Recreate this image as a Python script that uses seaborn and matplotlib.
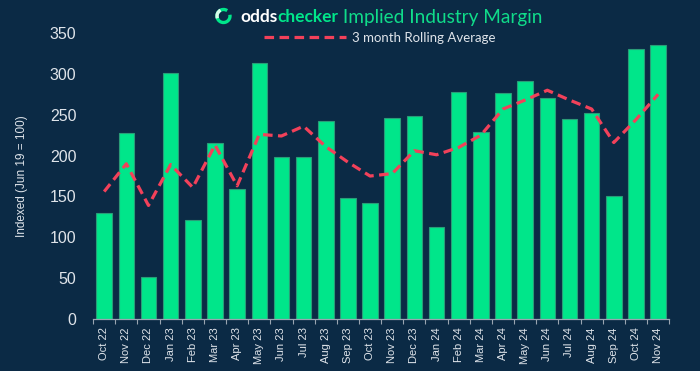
import numpy as np
import pandas as pd
import matplotlib
matplotlib.use('Agg')
import matplotlib.pyplot as plt
from matplotlib.patches import Arc
import seaborn as sns

months = ["Oct 22", "Nov 22", "Dec 22", "Jan 23", "Feb 23", "Mar 23", "Apr 23",
          "May 23", "Jun 23", "Jul 23", "Aug 23", "Sep 23", "Oct 23", "Nov 23",
          "Dec 23", "Jan 24", "Feb 24", "Mar 24", "Apr 24", "May 24", "Jun 24",
          "Jul 24", "Aug 24", "Sep 24", "Oct 24", "Nov 24"]
margin = [130, 228, 51, 301, 121, 215, 159, 313, 198, 198, 242, 148, 142, 246,
          248, 113, 278, 229, 276, 291, 270, 245, 252, 151, 331, 335]
rolling_avg = [156, 190, 139, 189, 161, 213, 163, 226, 224, 236, 211, 192, 175, 178,
               206, 201, 210, 225, 257, 268, 280, 268, 257, 216, 244, 275]

BG = '#0b2a45'
GREEN = '#00e68a'
RED = '#f2415a'
TXT = '#dfe4ea'

df = pd.DataFrame({"month": months, "margin": margin, "rolling": rolling_avg})

sns.set_theme(style="dark")
plt.rcParams['font.family'] = ['Liberation Sans', 'DejaVu Sans']

fig = plt.figure(figsize=(7, 3.71), dpi=100, facecolor=BG)
ax = fig.add_axes([0.133, 0.140, 0.823, 0.771])
ax.set_facecolor(BG)

sns.barplot(data=df, x="month", y="margin", color=GREEN, width=0.7,
            edgecolor='#2a9c78', linewidth=0.8, saturation=1, ax=ax)
sns.lineplot(data=df, x="month", y="rolling", sort=False, color=RED, linewidth=2.3,
             ax=ax, label="3 month Rolling Average", zorder=5)
ax.lines[-1].set_dashes((3, 1.7))

ax.set_xlim(-0.5, len(months) - 0.5)
ax.set_ylim(0, 350)
ax.set_yticks(range(0, 351, 50))
ax.set_xticks(np.arange(-0.5, len(months), 1), minor=True)
ax.tick_params(axis='x', which='major', length=0, pad=6, labelsize=8, colors=TXT,
               labelrotation=90)
ax.tick_params(axis='x', which='minor', length=3.5, width=0.8, color='#9aa5b1',
               direction='out', bottom=True)
ax.tick_params(axis='y', length=0, pad=12, labelsize=11.5, colors=TXT)
ax.grid(False)
for s in ['left', 'right', 'top']:
    ax.spines[s].set_visible(False)
ax.spines['bottom'].set_color('#9aa5b1')
ax.spines['bottom'].set_linewidth(0.9)

ax.set_xlabel("")
ax.set_ylabel("Indexed (Jun 19 = 100)", fontsize=8.5, color=TXT)
ax.yaxis.set_label_coords(-0.113, 0.5)

ax.get_legend().remove()
leg = fig.legend(handles=[ax.lines[-1]], labels=["3 month Rolling Average"],
                 loc='center', bbox_to_anchor=(380 / 700, 1 - 38 / 371),
                 frameon=False, handlelength=6.2, handletextpad=0.5,
                 prop={'family': 'Lato', 'size': 9.5})
for t in leg.get_texts():
    t.set_color(TXT)

# title: logo ring + "odds" + "checker" + rest
ring = Arc((223.5 / 700, 1 - 16 / 371), 13 / 700, 13 / 371, theta1=70, theta2=380,
           transform=fig.transFigure, color=GREEN, linewidth=2.4)
fig.add_artist(ring)
ring2 = Arc((223.5 / 700, 1 - 16 / 371), 13 / 700, 13 / 371, theta1=105, theta2=215,
            transform=fig.transFigure, color='#d9fbe9', linewidth=2.4)
fig.add_artist(ring2)

ty = 1 - 17 / 371
x0 = 240 / 700
pieces = [("odds", 'white', 'bold', 12.5), ("checker", GREEN, 'bold', 12.5),
          (" Implied Industry Margin", '#10dc8a', 'normal', 13.7)]
fig.canvas.draw()
r = fig.canvas.get_renderer()
for txt, col, w, sz in pieces:
    t = fig.text(x0, ty, txt, color=col, fontweight=w, fontsize=sz, family='Lato',
                 ha='left', va='center')
    bb = t.get_window_extent(renderer=r)
    x0 += bb.width / fig.bbox.width

fig.savefig("out.png", dpi=100, facecolor=BG)
